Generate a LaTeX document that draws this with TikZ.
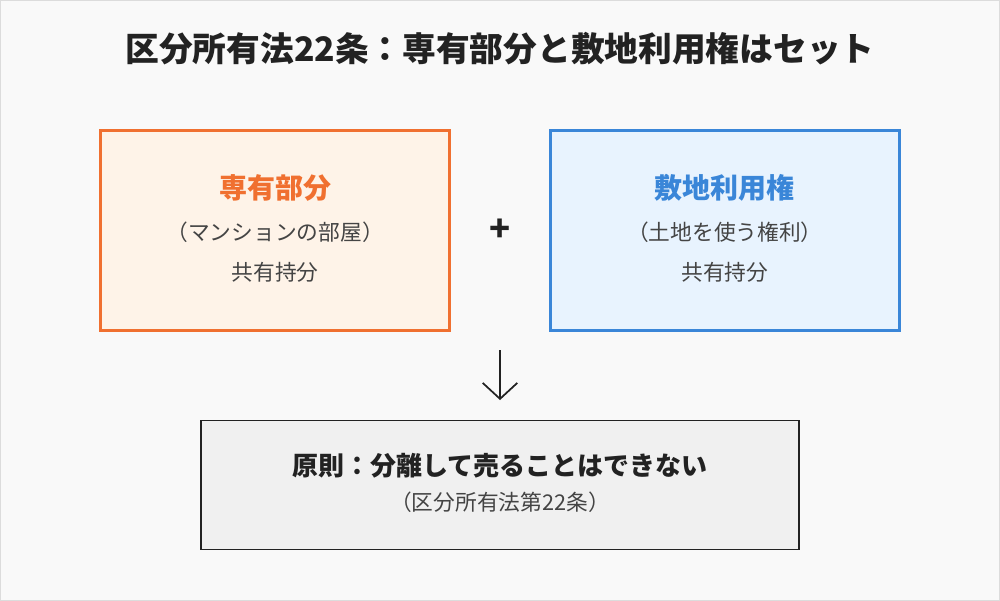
\documentclass[tikz,border=0pt]{standalone}
\usepackage{fontspec}
\setmainfont{Noto Sans CJK JP}
\usetikzlibrary{arrows.meta}
\definecolor{og}{HTML}{F07030}
\definecolor{ogf}{HTML}{FEF3E8}
\definecolor{bl}{HTML}{3A86D8}
\definecolor{blf}{HTML}{E8F3FE}
\definecolor{tx}{HTML}{222222}
\definecolor{sub}{HTML}{444444}
\begin{document}
\begin{tikzpicture}[x=0.75pt,y=-0.75pt,
  box/.style={draw,line width=2.2pt,minimum width=262pt,minimum height=150pt,inner sep=0pt},
  t/.style={font=\fontsize{16.3}{18}\selectfont,text=sub}]
\fill[fill={rgb,255:red,249;green,249;blue,249},draw={rgb,255:red,220;green,220;blue,220}] (0,0) rectangle (1000,600);
\useasboundingbox (0,0) rectangle (1000,600);
\node[font=\fontsize{25.3}{28}\bfseries\selectfont,text=tx] (title) at (500,48) {区分所有法22条：専有部分と敷地利用権はセット};
\node[box,draw=og,fill=ogf] (L) at (275,230) {};
\node[box,draw=bl,fill=blf] (R) at (725,230) {};
\node[font=\fontsize{21}{24}\bfseries\selectfont,text=og] (L1) at (275,188) {専有部分};
\node[t] (L2) at (275,232) {（マンションの部屋）};
\node[t] (L3) at (275,272) {共有持分};
\node[font=\fontsize{21}{24}\bfseries\selectfont,text=bl] (R1) at (725,188) {敷地利用権};
\node[t] (R2) at (725,232) {（土地を使う権利）};
\node[t] (R3) at (725,272) {共有持分};
\node[font=\fontsize{26}{28}\bfseries\selectfont,text=tx] (plus) at (500,230) {+};
\node[draw=tx,line width=1.2pt,fill={rgb,255:red,240;green,240;blue,240},minimum width=449pt,minimum height=97pt] (B) at (500,485) {};
\node[font=\fontsize{19.5}{22}\bfseries\selectfont,text=tx] (B1) at (500,466) {原則：分離して売ることはできない};
\node[t] (B2) at (500,502) {（区分所有法第22条）};
\coordinate (a1) at (500,350);
\coordinate (a2) at (500,400);
\draw[line width=1.3pt,tx,-{Straight Barb[length=12pt,width=26pt]}] (a1) -- (a2);
\end{tikzpicture}
\end{document}
